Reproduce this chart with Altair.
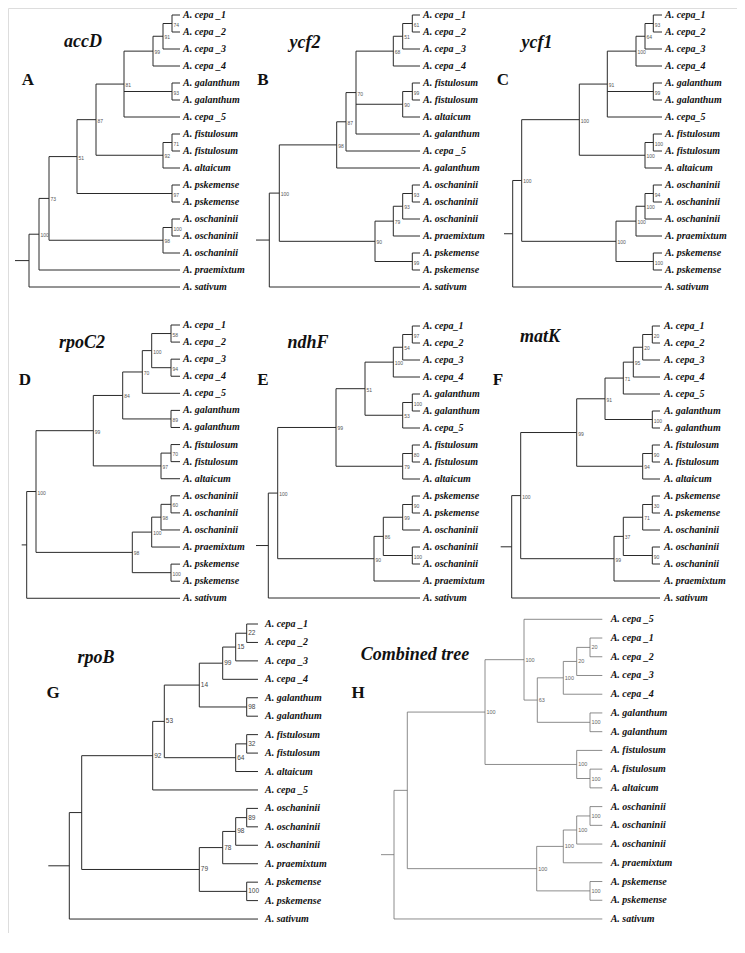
import altair as alt
import pandas as pd

# ------------------------------------------------------------------ data
CS = ["A. cepa _1", "A. cepa _2", "A. cepa _3", "A. cepa _4", "A. cepa _5"]
CN = ["A. cepa_1", "A. cepa_2", "A. cepa_3", "A. cepa_4", "A. cepa_5"]
GAL, FIS, ALT = "A. galanthum", "A. fistulosum", "A. altaicum"
PSK, OSC, PRA, SAT = "A. pskemense", "A. oschaninii", "A. praemixtum", "A. sativum"

# Panel A  accD
A_TIPS = [CS[0], CS[1], CS[2], CS[3], GAL, GAL, CS[4], FIS, FIS, ALT, PSK, PSK, OSC, OSC, OSC, PRA, SAT]
A_TIP_PARENT = ["c12", "c12", "c13", "c14", "gal", "gal", "c5", "ff", "ff", "fa", "ps", "ps", "oo", "oo", "o3", "n1", "root"]
A_NODE_ID = ["root", "n1", "n2", "n3", "n4", "c5", "c14", "c13", "c12", "gal", "fa", "ff", "ps", "o3", "oo"]
A_NODE_PARENT = ["", "root", "n1", "n2", "n3", "n4", "c5", "c14", "c13", "c5", "n4", "fa", "n3", "n2", "o3"]
A_NODE_BOOT = ["", "100", "73", "51", "87", "81", "99", "91", "74", "93", "92", "71", "97", "98", "100"]
A_NODE_X = [29, 39, 49, 77, 96, 124, 153, 163, 172, 172, 163, 172, 172, 163, 172]

# Panel B  ycf2
B_TIPS = [CS[0], CS[1], CS[2], CS[3], FIS, FIS, ALT, GAL, CS[4], GAL, OSC, OSC, OSC, PRA, PSK, PSK, SAT]
B_TIP_PARENT = ["c12", "c12", "c13", "c14", "ff", "ff", "fa", "n4", "n3", "n2", "oo", "oo", "o3", "o4", "ps", "ps", "root"]
B_NODE_ID = ["root", "n1", "n2", "n3", "n4", "c14", "c13", "c12", "fa", "ff", "os", "o4", "o3", "oo", "ps"]
B_NODE_PARENT = ["", "root", "n1", "n2", "n3", "n4", "c14", "c13", "n4", "fa", "n1", "os", "o4", "o3", "os"]
B_NODE_BOOT = ["", "100", "98", "87", "70", "68", "51", "61", "90", "99", "90", "79", "93", "93", "99"]
B_NODE_X = [269.3, 279.3, 336.7, 346, 356, 393.3, 402.7, 412.3, 402.7, 412.3, 375, 393.3, 402.7, 412.3, 412.3]

# Panel C  ycf1
C_TIPS = [CN[0], CN[1], CN[2], CN[3], GAL, GAL, CN[4], FIS, FIS, ALT, OSC, OSC, OSC, PRA, PSK, PSK, SAT]
C_TIP_PARENT = ["c12", "c12", "c13", "c14", "gal", "gal", "c5", "ff", "ff", "fa", "oo", "oo", "o3", "o4", "ps", "ps", "root"]
C_NODE_ID = ["root", "n1", "n2", "c5", "c14", "c13", "c12", "gal", "fa", "ff", "os", "o4", "o3", "oo", "ps"]
C_NODE_PARENT = ["", "root", "n1", "n2", "c5", "c14", "c13", "c5", "n2", "fa", "n1", "os", "o4", "o3", "os"]
C_NODE_BOOT = ["", "100", "100", "91", "100", "64", "93", "99", "100", "100", "100", "100", "100", "94", "100"]
C_NODE_X = [512.7, 521.7, 579.3, 607.3, 636, 645, 653.3, 653.3, 645, 653.3, 616, 636, 645, 653.3, 653.3]

# Panel D  rpoC2
D_TIPS = [CS[0], CS[1], CS[2], CS[3], CS[4], GAL, GAL, FIS, FIS, ALT, OSC, OSC, OSC, PRA, PSK, PSK, SAT]
D_TIP_PARENT = ["c12", "c12", "c34", "c34", "c15", "gal", "gal", "ff", "ff", "fa", "oo", "oo", "o3", "o4", "ps", "ps", "root"]
D_NODE_ID = ["root", "n1", "n2", "c7", "c15", "c14", "c12", "c34", "gal", "fa", "ff", "os", "o4", "o3", "oo", "ps"]
D_NODE_PARENT = ["", "root", "n1", "n2", "c7", "c15", "c14", "c14", "c7", "n2", "fa", "n1", "os", "o4", "o3", "os"]
D_NODE_BOOT = ["", "100", "99", "84", "70", "100", "58", "94", "89", "97", "70", "98", "100", "98", "60", "100"]
D_NODE_X = [26.7, 36, 93.3, 122.7, 142.3, 151.7, 171, 171, 171, 161, 171, 132.3, 151.7, 161, 171, 171]

# Panel E  ndhF
E_TIPS = [CN[0], CN[1], CN[2], CN[3], GAL, GAL, CN[4], FIS, FIS, ALT, PSK, PSK, OSC, OSC, OSC, PRA, SAT]
E_TIP_PARENT = ["c12", "c12", "c13", "c14", "gg", "gg", "g5", "ff", "ff", "fa", "ps", "ps", "o2", "oo", "oo", "os", "root"]
E_NODE_ID = ["root", "n1", "n2", "n3", "c14", "c13", "c12", "g5", "gg", "fa", "ff", "os", "o1", "o2", "ps", "oo"]
E_NODE_PARENT = ["", "root", "n1", "n2", "n3", "c14", "c13", "n3", "g5", "n2", "fa", "n1", "os", "o1", "o2", "o1"]
E_NODE_BOOT = ["", "100", "99", "51", "100", "54", "97", "53", "100", "79", "80", "90", "86", "99", "90", "100"]
E_NODE_X = [268.3, 277.7, 336, 365, 393.3, 402.7, 412.3, 402.7, 412.3, 402.7, 412.3, 374, 383.3, 402.7, 412.3, 412.3]

# Panel F  matK
F_TIPS = [CN[0], CN[1], CN[2], CN[3], CN[4], GAL, GAL, FIS, FIS, ALT, PSK, PSK, OSC, OSC, OSC, PRA, SAT]
F_TIP_PARENT = ["c12", "c12", "c13", "c14", "c15", "gal", "gal", "ff", "ff", "fa", "ps", "ps", "o2", "oo", "oo", "os", "root"]
F_NODE_ID = ["root", "n1", "n2", "n3", "c15", "c14", "c13", "c12", "gal", "fa", "ff", "os", "o1", "o2", "ps", "oo"]
F_NODE_PARENT = ["", "root", "n1", "n2", "n3", "c15", "c14", "c13", "n3", "n2", "fa", "n1", "os", "o1", "o2", "o1"]
F_NODE_BOOT = ["", "100", "99", "91", "71", "95", "20", "20", "100", "94", "90", "99", "37", "71", "30", "90"]
F_NODE_X = [511.7, 520.7, 576.7, 605, 623.3, 633.3, 642.7, 652.3, 652.3, 642.7, 652.3, 614, 623.3, 642.7, 652.3, 652.3]

# Panel G  rpoB
G_TIPS = [CS[0], CS[1], CS[2], CS[3], GAL, GAL, FIS, FIS, ALT, CS[4], OSC, OSC, OSC, PRA, PSK, PSK, SAT]
G_TIP_PARENT = ["c12", "c12", "c13", "c14", "gal", "gal", "ff", "ff", "fa", "n2", "oo", "oo", "o3", "o4", "ps", "ps", "root"]
G_NODE_ID = ["root", "n1", "n2", "n3", "n4", "c14", "c13", "c12", "gal", "fa", "ff", "os", "o4", "o3", "oo", "ps"]
G_NODE_PARENT = ["", "root", "n1", "n2", "n3", "n4", "c14", "c13", "n4", "n3", "fa", "n1", "os", "o4", "o3", "os"]
G_NODE_BOOT = ["", "", "92", "53", "14", "99", "15", "22", "98", "64", "32", "79", "78", "98", "89", "100"]
G_NODE_X = [69.3, 81.7, 152.7, 164.3, 199.3, 222.7, 235.7, 246.7, 246.7, 235.7, 246.7, 199.3, 222.7, 235.7, 246.7, 246.7]

# Panel H  Combined tree
H_TIPS = [CS[4], CS[0], CS[1], CS[2], CS[3], GAL, GAL, FIS, FIS, ALT, OSC, OSC, OSC, PRA, PSK, PSK, SAT]
H_TIP_PARENT = ["n3", "c12", "c12", "c13", "c14", "gal", "gal", "fa", "ff", "ff", "oo", "oo", "o3", "o4", "ps", "ps", "root"]
H_NODE_ID = ["root", "n1", "n2", "n3", "n4", "c14", "c13", "c12", "gal", "fa", "ff", "os", "o4", "o3", "oo", "ps"]
H_NODE_PARENT = ["", "root", "n1", "n2", "n3", "n4", "c14", "c13", "n4", "n2", "fa", "n1", "os", "o4", "o3", "os"]
H_NODE_BOOT = ["", "", "100", "100", "63", "100", "20", "20", "100", "100", "100", "100", "100", "100", "100", "100"]
H_NODE_X = [394, 407.3, 485, 524, 537.3, 563.3, 576.7, 590, 590, 576.7, 590, 536.7, 563.3, 576.7, 590, 590]

GENES = ["accD", "ycf2", "ycf1", "rpoC2", "ndhF", "matK", "rpoB", "Combined tree"]
LETTERS = ["A", "B", "C", "D", "E", "F", "G", "H"]

# ------------------------------------------------------------------ layout
LAYOUT = {
    "A": dict(stub=15, tip_end=180, text_x=183, y0=15, dy=17.0, title=(83, 42), letter=(28, 80)),
    "B": dict(stub=256, tip_end=420, text_x=423, y0=15, dy=17.0, title=(305, 43), letter=(263, 80)),
    "C": dict(stub=504, tip_end=662, text_x=665, y0=15, dy=17.0, title=(537, 43), letter=(503, 80)),
    "D": dict(stub=21.7, tip_end=180, text_x=183, y0=325, dy=17.08, title=(82, 343), letter=(25, 380)),
    "E": dict(stub=256, tip_end=420, text_x=423, y0=326, dy=17.0, title=(308, 343), letter=(263, 380)),
    "F": dict(stub=500.7, tip_end=660, text_x=664, y0=326, dy=17.0, title=(540, 337), letter=(498, 380)),
    "G": dict(stub=48.3, tip_end=258, text_x=265, y0=624, dy=18.44, title=(96, 658), letter=(53, 693)),
    "H": dict(stub=381, tip_end=602.3, text_x=610.7, y0=619.3, dy=18.73, title=(415, 655), letter=(358, 693)),
}
STYLE = {k: dict(color="#2a2a2a", width=1.0, bsize=5, bdy=1, bcolor="#555") for k in "ABCDEF"}
STYLE["G"] = dict(color="#2a2a2a", width=1.0, bsize=6.5, bdy=0, bcolor="#444")
STYLE["H"] = dict(color="#6f6f6f", width=0.8, bsize=5.5, bdy=0, bcolor="#666")

TREES = {
    "A": (A_TIPS, A_TIP_PARENT, A_NODE_ID, A_NODE_PARENT, A_NODE_BOOT, A_NODE_X),
    "B": (B_TIPS, B_TIP_PARENT, B_NODE_ID, B_NODE_PARENT, B_NODE_BOOT, B_NODE_X),
    "C": (C_TIPS, C_TIP_PARENT, C_NODE_ID, C_NODE_PARENT, C_NODE_BOOT, C_NODE_X),
    "D": (D_TIPS, D_TIP_PARENT, D_NODE_ID, D_NODE_PARENT, D_NODE_BOOT, D_NODE_X),
    "E": (E_TIPS, E_TIP_PARENT, E_NODE_ID, E_NODE_PARENT, E_NODE_BOOT, E_NODE_X),
    "F": (F_TIPS, F_TIP_PARENT, F_NODE_ID, F_NODE_PARENT, F_NODE_BOOT, F_NODE_X),
    "G": (G_TIPS, G_TIP_PARENT, G_NODE_ID, G_NODE_PARENT, G_NODE_BOOT, G_NODE_X),
    "H": (H_TIPS, H_TIP_PARENT, H_NODE_ID, H_NODE_PARENT, H_NODE_BOOT, H_NODE_X),
}

segs, tips_rows, boot_rows, head_rows = [], [], [], []
for key, (tips, tpar, nid, npar, nboot, nx) in TREES.items():
    L, S = LAYOUT[key], STYLE[key]
    tip_y = [L["y0"] + i * L["dy"] for i in range(len(tips))]
    xs = dict(zip(nid, nx))
    parent = dict(zip(nid, npar))
    boot = dict(zip(nid, nboot))
    child_y = {n: [] for n in nid}
    for i, p in enumerate(tpar):
        child_y[p].append(tip_y[i])
    ny = {}

    def node_y(n):
        if n in ny:
            return ny[n]
        ys = list(child_y[n]) + [node_y(c)[0] for c in nid if parent[c] == n]
        ny[n] = ((min(ys) + max(ys)) / 2.0, min(ys), max(ys))
        return ny[n]

    for n in nid:
        node_y(n)

    def seg(x1, y1, x2, y2):
        segs.append(dict(x=float(x1), y=float(y1), x2=float(x2), y2=float(y2), c=S["color"], w=S["width"]))

    for i, p in enumerate(tpar):
        seg(xs[p], tip_y[i], L["tip_end"], tip_y[i])
        tips_rows.append(dict(x=L["text_x"], y=tip_y[i], t=tips[i]))
    for n in nid:
        y, lo, hi = ny[n]
        seg(xs[n], lo, xs[n], hi)
        if parent[n]:
            seg(xs[parent[n]], y, xs[n], y)
        else:
            seg(L["stub"], y, xs[n], y)
        if boot[n]:
            boot_rows.append(dict(x=xs[n] + 1.5, y=y + S["bdy"], t=boot[n], s=S["bsize"], c=S["bcolor"]))
    i = LETTERS.index(key)
    head_rows.append(dict(x=L["title"][0], y=L["title"][1], t=GENES[i], kind="title"))
    head_rows.append(dict(x=L["letter"][0], y=L["letter"][1], t=key, kind="letter"))

seg_df = pd.DataFrame(segs)
tip_df = pd.DataFrame(tips_rows)
boot_df = pd.DataFrame(boot_rows)
head_df = pd.DataFrame(head_rows)

# ------------------------------------------------------------------ chart
W, H = 729, 925
xs_ = alt.Scale(domain=[8, 8 + W], nice=False, zero=False)
ys_ = alt.Scale(domain=[8, 8 + H], nice=False, zero=False, reverse=True)
X = lambda f: alt.X(f, type="quantitative", scale=xs_, axis=None)
Y = lambda f: alt.Y(f, type="quantitative", scale=ys_, axis=None)

rules = alt.Chart(seg_df).mark_rule().encode(
    x=X("x"), y=Y("y"), x2="x2", y2="y2",
    color=alt.Color("c:N", scale=None),
    strokeWidth=alt.StrokeWidth("w:Q", scale=None),
)
tip_text = alt.Chart(tip_df).mark_text(
    align="left", baseline="middle", font="Liberation Serif", fontStyle="italic",
    fontWeight="bold", fontSize=10, color="#111",
).encode(x=X("x"), y=Y("y"), text="t:N")
boot_text = alt.Chart(boot_df).mark_text(
    align="left", baseline="middle", font="Liberation Sans",
).encode(x=X("x"), y=Y("y"), text="t:N",
         size=alt.Size("s:Q", scale=None), color=alt.Color("c:N", scale=None))
titles = alt.Chart(head_df).transform_filter(alt.datum.kind == "title").mark_text(
    align="center", baseline="middle", font="Liberation Serif", fontStyle="italic",
    fontWeight="bold", fontSize=18, color="#111",
).encode(x=X("x"), y=Y("y"), text="t:N")
letters = alt.Chart(head_df).transform_filter(alt.datum.kind == "letter").mark_text(
    align="center", baseline="middle", font="Liberation Serif",
    fontWeight="bold", fontSize=17, color="#111",
).encode(x=X("x"), y=Y("y"), text="t:N")

chart = alt.layer(rules, tip_text, boot_text, titles, letters).properties(
    width=W, height=H, padding=0, autosize=alt.AutoSizeParams(type="none"),
).configure_view(stroke=None, strokeWidth=0).configure(background="white")

chart.save("out.html", embed_options={"renderer": "svg", "actions": False})
